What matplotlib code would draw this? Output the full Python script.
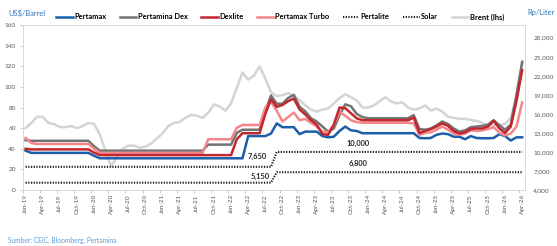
import numpy as np
import pandas as pd
import matplotlib
matplotlib.use('Agg')
import matplotlib.pyplot as plt
from matplotlib.lines import Line2D

plt.rcParams['font.family'] = ['Lato', 'DejaVu Sans']

# monthly, Jan-19 .. Apr-26
months = pd.date_range('2019-01-01', '2026-04-01', freq='MS')
month_labels = [d.strftime('%b-%y') for d in months]

# Brent, US$/barrel (left axis)
brent = [60, 65, 71, 71, 65, 64, 61, 61, 62, 60, 62, 65,
         64, 54, 38, 23, 32, 40, 43, 43, 41, 42, 45, 50,
         55, 62, 65, 66, 70, 73, 72, 70, 75, 83, 81, 77,
         84, 99, 114, 107, 111, 120, 108, 95, 91, 92, 94, 91,
         87, 82, 78, 76, 78, 79, 84, 89, 93, 90, 87, 80,
         80, 82, 86, 90, 86, 84, 85, 80, 78, 79, 82, 77,
         79, 76, 71, 70, 69, 69, 68, 67, 65, 63, 63, 63,
         64, 70, 90, 123]

# fuel prices, Rp/liter (right axis)
pertamax = ([10200] + [9850] * 11 + [9400] + [9000] * 26 + [12500] * 4 +
            [12900, 14500, 13900, 13900, 13900, 12800, 13200, 13200, 13200,
             12500, 12300, 12400, 13300, 14000, 13400, 13300] +
            [12950] * 10 +
            [12200, 12150, 12200, 12700, 12900, 12800, 12400, 12400, 12000,
             12500, 12200, 12150, 12150, 12200, 12800, 12500, 11800, 12300, 12300])

pertamina_dex = ([11850] + [11750] * 11 + [10900] + [10200] * 19 + [11150] * 5 +
                 [13000] + [13500] * 4 +
                 [16500, 18900, 17600, 17600, 18500, 19000, 17100, 16400, 15300,
                  14800, 14000, 13200, 13700, 15800, 17500, 17200, 16000, 15500] +
                 [15300] * 8 +
                 [15800, 13600, 13500, 13700, 14200, 14800, 14400, 13700, 13200,
                  13400, 13900, 14000, 14100, 14300, 15000, 14200, 13500, 14300,
                  19000, 24200])

dexlite = ([10500] + [10400] * 11 + [9900] + [9500] * 24 + [12000] + [12950] * 4 +
           [16000, 18300, 17100, 17400, 18000, 18400, 16700, 15900, 15000,
            14300, 12800, 12700, 14300, 17000, 16900, 16100, 15300] +
           [15000] * 9 +
           [15400, 13000, 13300, 13600, 14000, 14500, 14100, 13300, 12900,
            13100, 13600, 13700, 13700, 14000, 14900, 13700, 13000, 14000,
            18000, 22900])

pertamax_turbo = ([12200, 11400] + [11250] * 10 + [10500] + [9850] * 19 + [12000] * 5 +
                  [13800] + [14250] * 4 +
                  [17000, 17900, 16500, 14800, 15500, 16200, 15000, 15200, 14600,
                   14000, 13200, 13100, 14200, 16300, 15700, 15000, 14700] +
                  [14600] * 9 +
                  [14500, 12700, 13000, 13100, 13500, 14000, 13500, 12900, 12700,
                   12900, 13400, 13300, 13400, 13600, 13900, 13000, 12600, 12900,
                   14000, 17800])

pertalite = [7650] * 44 + [10000] * 44
solar = [5150] * 44 + [6800] * 44

left_ticks = list(range(0, 161, 20))
right_ticks = list(range(4000, 28001, 3000))

x = np.arange(len(months))

fig = plt.figure(figsize=(5.57, 2.46), dpi=100)
ax = fig.add_axes([0.0408, 0.2276, 0.9018, 0.6707])
ax2 = ax.twinx()

ax.plot(x, brent, color='#d4d4d4', lw=1.8)

c_pmx, c_dex, c_dxl, c_tur = '#1b5ea9', '#737373', '#c1272d', '#f4878c'
dots = (0.6, 0.7)
ax2.plot(x, pertalite, color='#1a1a1a', lw=1.5, dashes=dots)
ax2.plot(x, solar, color='#1a1a1a', lw=1.5, dashes=dots)
ax2.plot(x, pertamax, color=c_pmx, lw=1.8)
ax2.plot(x, pertamina_dex, color=c_dex, lw=1.8)
ax2.plot(x, pertamax_turbo, color=c_tur, lw=1.8)
ax2.plot(x, dexlite, color=c_dxl, lw=1.8)

ax.set_xlim(-0.5, len(months) - 0.5)
ax.set_ylim(0, 160)
ax2.set_ylim(4000, 30000)

ax.set_yticks(left_ticks)
ax.set_yticklabels([str(v) for v in left_ticks])
ax2.set_yticks(right_ticks)
ax2.set_yticklabels([f'{v:,}' for v in right_ticks])

ax.set_xticks(x[::3])
ax.set_xticklabels(month_labels[::3], rotation=90)
ax.set_xticks(np.arange(-0.5, len(months), 3), minor=True)

tick_col = '#595959'
ax.tick_params(axis='x', which='major', length=0, pad=3, labelsize=4.6, labelcolor=tick_col)
ax.tick_params(axis='x', which='minor', length=2.5, width=0.6, color='#bfbfbf')
ax.tick_params(axis='y', length=2, width=0.6, color='#bfbfbf', labelsize=4.6,
               labelcolor=tick_col, pad=3)
ax2.tick_params(axis='y', length=0, labelsize=4.6, labelcolor=tick_col, pad=6)

for a in (ax, ax2):
    for s in a.spines.values():
        s.set_color('#d9d9d9')
        s.set_linewidth(0.7)
ax.spines['left'].set_color('#bfbfbf')
ax.spines['bottom'].set_color('#bfbfbf')

# value labels on the regulated prices
lab = dict(ha='center', va='center', fontsize=5.4, fontweight='bold', color='#262626')
ax2.text(58.3, 11360, '10,000', **lab)
ax2.text(58.3, 8210, '6,800', **lab)
ax2.text(40.6, 9250, '7,650', **lab)
ax2.text(41.1, 6200, '5,150', **lab)

handles = [Line2D([], [], color=c_pmx, lw=1.8),
           Line2D([], [], color=c_dex, lw=1.8),
           Line2D([], [], color=c_dxl, lw=1.8),
           Line2D([], [], color=c_tur, lw=1.8),
           Line2D([], [], color='#1a1a1a', lw=1.5, dashes=dots),
           Line2D([], [], color='#1a1a1a', lw=1.5, dashes=dots),
           Line2D([], [], color='#d4d4d4', lw=1.8)]
names = ['Pertamax', 'Pertamina Dex', 'Dexlite', 'Pertamax Turbo',
         'Pertalite', 'Solar', 'Brent (lhs)']
fig.legend(handles, names, loc='center', bbox_to_anchor=(0.503, 0.931), ncol=7,
           frameon=False, prop={'size': 5.4, 'weight': 'bold'},
           handlelength=2.2, handletextpad=0.2, columnspacing=1.8)

fig.text(8 / 557, 1 - 13 / 246, 'US$/Barrel', ha='left', va='center',
         color='#2e75b6', fontsize=5.4)
fig.text(527 / 557, 1 - 13 / 246, 'Rp/Liter', ha='left', va='center',
         color='#2e75b6', fontsize=5.4)
fig.text(8 / 557, 1 - 240.7 / 246, 'Sumber: CEIC, Bloomberg, Pertamina', ha='left',
         va='center', color='#5b9bd5', fontsize=4.8)

fig.savefig('out.png', dpi=100)
